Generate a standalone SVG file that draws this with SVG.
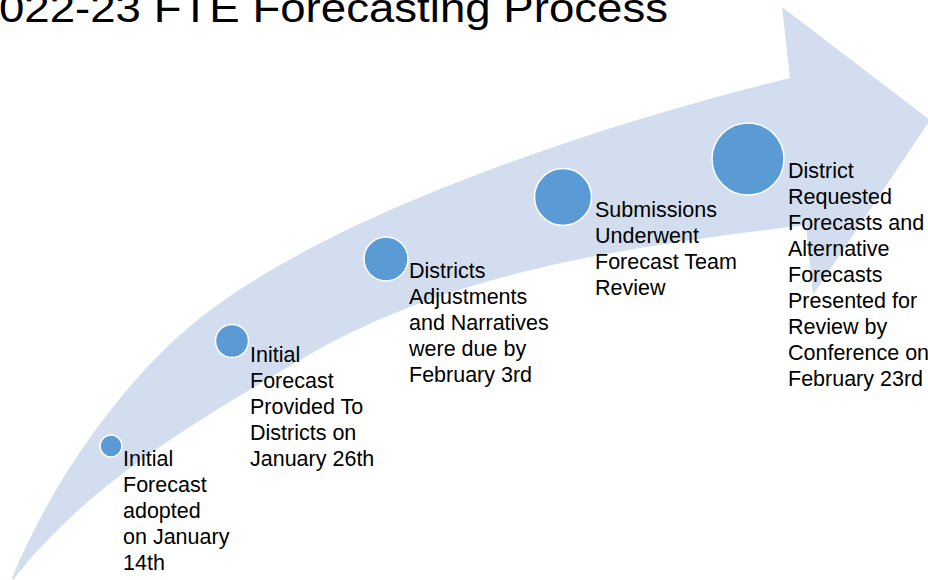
<svg xmlns="http://www.w3.org/2000/svg" width="928" height="580" viewBox="0 0 928 580">
  <style>
    .bg { fill: #ffffff; }
    .band { fill: #d2deef; stroke: none; }
    .dot { fill: #5b9bd5; stroke: #ffffff; stroke-width: 1.5; }
    .lbl { font-family: "Liberation Sans", Arial, sans-serif; font-size: 21.5px; fill: #000000; }
    .title { font-family: "Liberation Sans", Arial, sans-serif; font-size: 41px; fill: #000000; }
  </style>
  <rect class="bg" x="0" y="0" width="928" height="580"/>
  <g id="title">
    <text class="title" x="-1" y="22" textLength="669" lengthAdjust="spacingAndGlyphs">022-23 FTE Forecasting Process</text>
  </g>
  <g id="arrow">
    <path class="band" d="M12,578 C50,485 122,380 200,318 C329,216 586,128 790,78 L782,7 L930,120 L813,295 L806,225 C622,247 446,273 300,360 C197,421 87,484 13,580 Z"/>
  </g>
  <g id="connectors"></g>
  <g id="node1">
    <circle class="dot" cx="111" cy="446" r="11"/>
    <text class="lbl" x="123" y="466">
      <tspan x="123" y="466">Initial</tspan>
      <tspan x="123" y="492">Forecast</tspan>
      <tspan x="123" y="518">adopted</tspan>
      <tspan x="123" y="544">on January</tspan>
      <tspan x="123" y="570">14th</tspan>
    </text>
  </g>
  <g id="node2">
    <circle class="dot" cx="232" cy="341" r="16.5"/>
    <text class="lbl" x="250" y="362">
      <tspan x="250" y="362">Initial</tspan>
      <tspan x="250" y="388">Forecast</tspan>
      <tspan x="250" y="414">Provided To</tspan>
      <tspan x="250" y="440">Districts on</tspan>
      <tspan x="250" y="466">January 26th</tspan>
    </text>
  </g>
  <g id="node3">
    <circle class="dot" cx="386" cy="259" r="22"/>
    <text class="lbl" x="409" y="278">
      <tspan x="409" y="278">Districts</tspan>
      <tspan x="409" y="304">Adjustments</tspan>
      <tspan x="409" y="330">and Narratives</tspan>
      <tspan x="409" y="356">were due by</tspan>
      <tspan x="409" y="382">February 3rd</tspan>
    </text>
  </g>
  <g id="node4">
    <circle class="dot" cx="563" cy="197" r="28.5"/>
    <text class="lbl" x="595" y="217">
      <tspan x="595" y="217">Submissions</tspan>
      <tspan x="595" y="243">Underwent</tspan>
      <tspan x="595" y="269">Forecast Team</tspan>
      <tspan x="595" y="295">Review</tspan>
    </text>
  </g>
  <g id="node5">
    <circle class="dot" cx="748" cy="159" r="36"/>
    <text class="lbl" x="788" y="178">
      <tspan x="788" y="178">District</tspan>
      <tspan x="788" y="204">Requested</tspan>
      <tspan x="788" y="230">Forecasts and</tspan>
      <tspan x="788" y="256">Alternative</tspan>
      <tspan x="788" y="282">Forecasts</tspan>
      <tspan x="788" y="308">Presented for</tspan>
      <tspan x="788" y="334">Review by</tspan>
      <tspan x="788" y="360">Conference on</tspan>
      <tspan x="788" y="386">February 23rd</tspan>
    </text>
  </g>
</svg>
